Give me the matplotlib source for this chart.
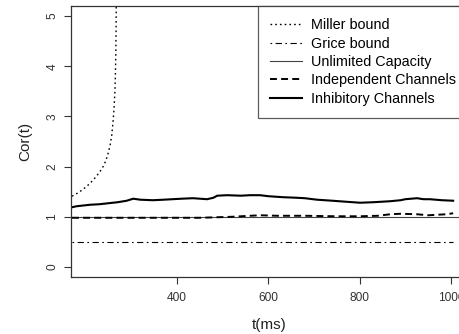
import numpy as np
import matplotlib
matplotlib.use('Agg')
import matplotlib.pyplot as plt

plt.rcParams['font.family'] = ['Liberation Sans', 'DejaVu Sans']
plt.rcParams['lines.scale_dashes'] = False

# Miller bound (dotted), rises to infinity near t ~ 267
miller_t = [170, 180, 190, 200, 210, 220, 228, 235, 241, 246, 250, 254, 257, 260, 262, 264, 265, 266, 266.6, 267]
miller_y = [1.41, 1.46, 1.52, 1.59, 1.67, 1.77, 1.86, 1.95, 2.05, 2.17, 2.29, 2.45, 2.62, 2.90, 3.15, 3.50, 3.80, 4.25, 4.80, 5.40]

# Grice bound and unlimited capacity are flat
grice_t = [170, 1005]
grice_y = [0.5, 0.5]
ucip_t = [168, 1040]
ucip_y = [1.0, 1.0]

# Independent channels (dashed)
indep_t = [170, 220, 300, 380, 450, 520, 560, 582, 620, 680, 750, 800, 840, 867, 890, 926, 950, 970, 990, 1005]
indep_y = [0.98, 0.98, 0.98, 0.98, 0.98, 1.00, 1.02, 1.03, 1.02, 1.02, 1.01, 1.01, 1.02, 1.05, 1.06, 1.05, 1.03, 1.04, 1.05, 1.07]

# Inhibitory channels (thick solid)
inhib_t = [170, 180, 190, 200, 210, 230, 250, 270, 290, 304, 320, 347, 370, 390, 410, 435, 466, 480, 488,
           510, 540, 560, 582, 600, 632, 660, 680, 707, 740, 770, 801, 830, 867, 890, 900, 926, 940, 954, 980, 1005]
inhib_y = [1.19, 1.21, 1.22, 1.23, 1.24, 1.25, 1.27, 1.29, 1.32, 1.36, 1.34, 1.33, 1.34, 1.35, 1.36, 1.37, 1.35, 1.38, 1.42,
           1.43, 1.42, 1.43, 1.43, 1.41, 1.39, 1.38, 1.37, 1.34, 1.32, 1.30, 1.28, 1.29, 1.31, 1.33, 1.35, 1.37, 1.35, 1.35, 1.33, 1.32]

labels = ['Miller bound', 'Grice bound', 'Unlimited Capacity', 'Independent Channels', 'Inhibitory Channels']
xticks = [400, 600, 800, 1000]
yticks = [0, 1, 2, 3, 4, 5]

W, H = 460, 334
fig = plt.figure(figsize=(W / 100, H / 100), dpi=100)
ax = fig.add_axes([71 / W, (H - 277) / H, (468 - 71) / W, (277 - 6) / H])

ax.plot(miller_t, miller_y, color='black', lw=1.0, dashes=(1.2, 2.2), label=labels[0])
ax.plot(grice_t, grice_y, color='black', lw=0.8, dashes=(1.2, 2.5, 4.5, 2.5), label=labels[1])
ax.plot(ucip_t, ucip_y, color='#444444', lw=0.8, label=labels[2])
ax.plot(indep_t, indep_y, color='black', lw=1.4, dashes=(5, 3), label=labels[3])
ax.plot(inhib_t, inhib_y, color='black', lw=1.5, label=labels[4])

ax.set_xlim(167.8, 1037.5)
ax.set_ylim(-0.2, 5.2)
ax.set_xticks(xticks)
ax.set_yticks(yticks)
ax.tick_params(axis='both', direction='out', length=5, width=0.8, colors='#333333', labelsize=8.6, pad=4)
ax.tick_params(axis='x', pad=6)
for lab in ax.get_yticklabels():
    lab.set_rotation(90)
    lab.set_va('center')
for sp in ax.spines.values():
    sp.set_color('#333333')
    sp.set_linewidth(0.9)

ax.set_xlabel('t(ms)', fontsize=11, color='#222222', labelpad=10)
ax.set_ylabel('Cor(t)', fontsize=11, color='#222222', labelpad=10)

leg = ax.legend(loc='upper right', bbox_to_anchor=(1.0, 1.0), fontsize=10.4, frameon=True, fancybox=False,
                edgecolor='#333333', handlelength=2.2, handletextpad=0.6, labelspacing=0.3,
                borderpad=0.85, borderaxespad=0.0)
leg.get_frame().set_linewidth(0.9)

fig.savefig('out.png', dpi=100)
